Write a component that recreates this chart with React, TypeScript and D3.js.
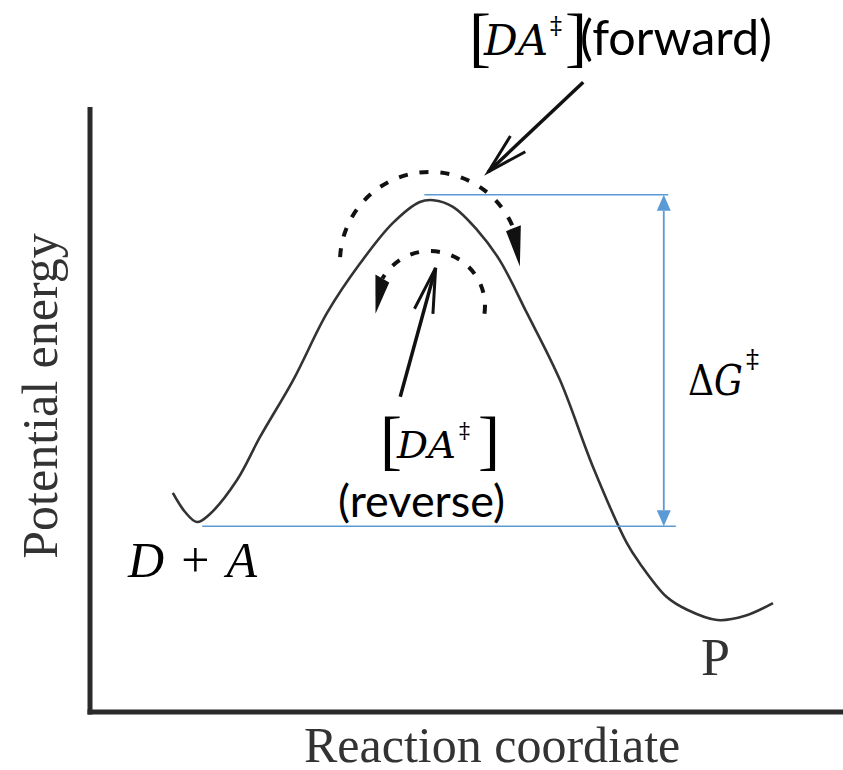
import React from 'react';
import * as d3 from 'd3';

const W = 843;
const H = 770;

// Potential-energy profile: reaction coordinate (0-100) vs potential energy (0-100)
const reactionCoord = [11.0, 12.6, 14.2, 15.9, 19.5, 22.6, 27.0, 31.5, 35.9, 40.2, 43.8, 45.6, 48.2, 51.4, 54.4, 58.0, 62.4, 66.8, 71.3, 73.0, 76.6, 79.3, 83.3, 87.0, 90.7];
const potentialEnergy = [36.2, 33.1, 31.4, 32.7, 38.3, 45.5, 54.9, 66.0, 74.2, 80.8, 84.3, 84.6, 83.5, 79.7, 74.7, 66.0, 54.9, 40.5, 27.9, 24.6, 19.0, 16.9, 15.2, 15.9, 18.0];

// Reference levels for the activation energy
const barrierTop = 85.5;
const reactantLevel = 30.7;
const barrierSpan = [44.4, 76.8];
const reactantSpan = [14.9, 77.8];
const deltaGX = 76.2;

// Recrossing arcs (centre in data units, angles in degrees)
const forwardArc = { cx: 45.15, cy: 74.4, r: 90, start: -177, end: -22, tip: 3 };
const reverseArc = { cx: 45.15, cy: 67.1, r: 55, start: 8, end: -150, tip: -188 };

// Pointer arrows: [from, to] in data units
const forwardPointer = [[65.5, 104.1], [52.9, 89.3]];
const reversePointer = [[41.2, 52.1], [45.9, 73.4]];

const xLabel = 'Reaction coordiate';
const yLabel = 'Potential energy';

const x = d3.scaleLinear().domain([0, 100]).range([90, 843]);
const y = d3.scaleLinear().domain([0, 100]).range([712, 107]);

const BLUE = '#5b9bd5';
const INK = '#2a2a2a';
const SERIF = '"Liberation Serif", "Times New Roman", serif';
const MATH = '"DejaVu Serif", serif';
const SANS = 'Lato, "Open Sans", sans-serif';

const rad = (a: number) => (a * Math.PI) / 180;

function arcPaths(a: typeof forwardArc) {
  const cx = x(a.cx);
  const cy = y(a.cy);
  const p = d3.path();
  const a0 = rad(a.start);
  const a1 = rad(a.end);
  p.moveTo(cx + a.r * Math.cos(a0), cy + a.r * Math.sin(a0));
  p.arc(cx, cy, a.r, a0, a1, a.end < a.start);
  const w = 8;
  const b = rad(a.end);
  const t = rad(a.tip);
  const head = d3.path();
  head.moveTo(cx + (a.r - w) * Math.cos(b), cy + (a.r - w) * Math.sin(b));
  head.lineTo(cx + (a.r + w) * Math.cos(b), cy + (a.r + w) * Math.sin(b));
  head.lineTo(cx + a.r * Math.cos(t), cy + a.r * Math.sin(t));
  head.closePath();
  return { arc: p.toString(), head: head.toString() };
}

function pointer(pts: number[][], len: number, spread: number) {
  const [fx, fy] = [x(pts[0][0]), y(pts[0][1])];
  const [tx, ty] = [x(pts[1][0]), y(pts[1][1])];
  const ang = Math.atan2(fy - ty, fx - tx);
  const s = rad(spread);
  const b1 = [tx + len * Math.cos(ang - s), ty + len * Math.sin(ang - s)];
  const b2 = [tx + len * Math.cos(ang + s), ty + len * Math.sin(ang + s)];
  return {
    line: `M${fx},${fy}L${tx},${ty}`,
    head: `M${b1[0]},${b1[1]}L${tx},${ty}L${b2[0]},${b2[1]}`,
  };
}

export default function App() {
  const pts: [number, number][] = reactionCoord.map((rc, i) => [x(rc), y(potentialEnergy[i])]);
  const curve = d3.line().curve(d3.curveCatmullRom.alpha(0.5))(pts) || '';

  const fwd = arcPaths(forwardArc);
  const rev = arcPaths(reverseArc);
  const fp = pointer(forwardPointer, 42, 15);
  const rp = pointer(reversePointer, 46, 12);

  const ax = x(deltaGX);
  const yTop = y(barrierTop);
  const yBot = y(reactantLevel);
  const hl = 16;
  const hw = 7;

  return (
    <svg width={W} height={H} style={{ position: 'absolute', left: 0, top: 0, display: 'block', background: '#fff' }}>
      {/* axes */}
      <line x1={x(0)} y1={107} x2={x(0)} y2={y(0) + 2.5} stroke={INK} strokeWidth={5} />
      <line x1={x(0) - 2.5} y1={y(0)} x2={W} y2={y(0)} stroke={INK} strokeWidth={5} />

      {/* axis labels */}
      <text x={304} y={762} fontFamily={SERIF} fontSize={50} fill="#333">{xLabel}</text>
      <text transform="translate(57,396) rotate(-90)" textAnchor="middle" fontFamily={SERIF} fontSize={50} fill="#333">{yLabel}</text>

      {/* energy profile */}
      <path d={curve} fill="none" stroke="#333" strokeWidth={2.6} />

      {/* blue reference lines */}
      <line x1={x(barrierSpan[0])} x2={x(barrierSpan[1])} y1={yTop} y2={yTop} stroke={BLUE} strokeWidth={1.5} />
      <line x1={x(reactantSpan[0])} x2={x(reactantSpan[1])} y1={yBot} y2={yBot} stroke={BLUE} strokeWidth={1.5} />
      <line x1={ax} x2={ax} y1={yTop + hl} y2={yBot - hl} stroke={BLUE} strokeWidth={1.8} />
      <path d={`M${ax},${yTop}L${ax - hw},${yTop + hl}L${ax + hw},${yTop + hl}Z`} fill={BLUE} />
      <path d={`M${ax},${yBot}L${ax - hw},${yBot - hl}L${ax + hw},${yBot - hl}Z`} fill={BLUE} />

      {/* recrossing arcs */}
      <path d={fwd.arc} fill="none" stroke="#111" strokeWidth={4} strokeDasharray="9 12" />
      <path d={fwd.head} fill="#111" />
      <path d={rev.arc} fill="none" stroke="#111" strokeWidth={4} strokeDasharray="9 12" />
      <path d={rev.head} fill="#111" />

      {/* pointers */}
      <path d={fp.line} stroke="#111" strokeWidth={3.5} fill="none" />
      <path d={fp.head} stroke="#111" strokeWidth={3} fill="none" />
      <path d={rp.line} stroke="#111" strokeWidth={3.5} fill="none" />
      <path d={rp.head} stroke="#111" strokeWidth={3} fill="none" />

      {/* [DA‡](forward) */}
      <g fill="#000">
        <text x={469} y={59} fontFamily={SERIF} fontSize={66}>[</text>
        <text x={484} y={55} fontFamily={MATH} fontSize={42} fontStyle="italic" textLength={64} lengthAdjust="spacingAndGlyphs">DA</text>
        <text x={550} y={34} fontFamily={MATH} fontSize={24}>‡</text>
        <text x={565} y={59} fontFamily={SERIF} fontSize={66}>]</text>
        <text x={580} y={55} fontFamily={SANS} fontSize={48} textLength={192} lengthAdjust="spacingAndGlyphs">(forward)</text>
      </g>

      {/* [DA‡] (reverse) */}
      <g fill="#000">
        <text x={380} y={462} fontFamily={SERIF} fontSize={66}>[</text>
        <text x={397} y={458} fontFamily={MATH} fontSize={38} fontStyle="italic" textLength={59} lengthAdjust="spacingAndGlyphs">DA</text>
        <text x={459} y={438} fontFamily={MATH} fontSize={22}>‡</text>
        <text x={478} y={462} fontFamily={SERIF} fontSize={66}>]</text>
        <text x={338} y={517} fontFamily={SANS} fontSize={44} textLength={167} lengthAdjust="spacingAndGlyphs">(reverse)</text>
      </g>

      {/* ΔG‡ */}
      <text x={688} y={395} fontFamily={MATH} fontSize={42} fill="#000" textLength={55} lengthAdjust="spacingAndGlyphs">
        Δ<tspan fontStyle="italic">G</tspan>
      </text>
      <text x={746} y={368} fontFamily={MATH} fontSize={26} fill="#000">‡</text>

      {/* D + A */}
      <text x={128} y={577} fontFamily={SERIF} fontSize={50} fill="#000" textLength={129} lengthAdjust="spacing">
        <tspan fontStyle="italic">D</tspan> + <tspan fontStyle="italic">A</tspan>
      </text>

      {/* P */}
      <text x={701} y={675} fontFamily={SERIF} fontSize={52} fill="#333">P</text>
    </svg>
  );
}
